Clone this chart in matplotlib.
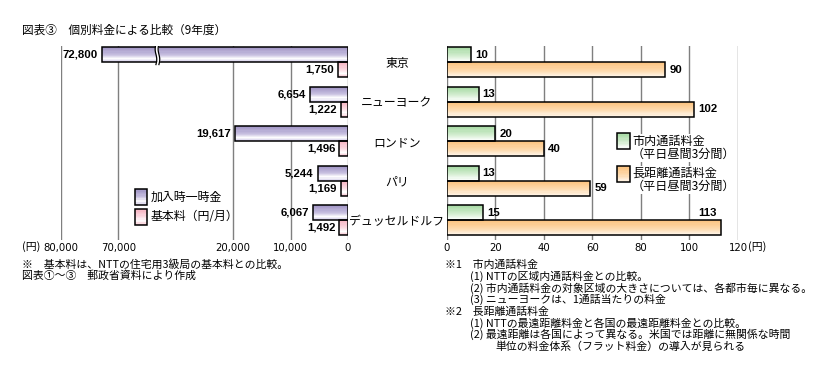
import numpy as np
import matplotlib
matplotlib.use('Agg')
import matplotlib.pyplot as plt
from matplotlib.colors import LinearSegmentedColormap
from matplotlib.patches import Rectangle

plt.rcParams['font.family'] = ['Noto Sans CJK JP', 'DejaVu Sans']

# data
cities = ['東京', 'ニューヨーク', 'ロンドン', 'パリ', 'デュッセルドルフ']
join_fee = [72800, 6654, 19617, 5244, 6067]      # 加入時一時金
basic_fee = [1750, 1222, 1496, 1169, 1492]        # 基本料(円/月)
local_call = [10, 13, 20, 13, 15]                 # 市内通話料金
long_call = [90, 102, 40, 59, 113]                # 長距離通話料金
left_ticks = [80000, 70000, 20000, 10000, 0]
right_ticks = [0, 20, 40, 60, 80, 100, 120]

W, H = 828, 381
BAR_H = 0.38

purple = LinearSegmentedColormap.from_list('p', [(0, '#a094c5'), (0.5, '#c8c0e0'), (0.78, '#ffffff'), (1, '#d2cbe8')])
pink = LinearSegmentedColormap.from_list('k', [(0, '#f6b2c1'), (0.5, '#fbdbe3'), (0.78, '#ffffff'), (1, '#f8c3cf')])
green = LinearSegmentedColormap.from_list('g', [(0, '#a6daa3'), (0.6, '#d6eed3'), (1, '#ffffff')])
orange = LinearSegmentedColormap.from_list('o', [(0, '#fcc27e'), (0.6, '#fddcb2'), (1, '#fff6ea')])


def fwd(v):
    v = np.asarray(v, dtype=float)
    return np.where(v <= 20000, v / 1e4,
                    np.where(v >= 70000, 4 + (v - 70000) / 1e4, 2 + (v - 20000) / 25000))


def inv(u):
    u = np.asarray(u, dtype=float)
    return np.where(u <= 2, u * 1e4,
                    np.where(u >= 4, 70000 + (u - 4) * 1e4, 20000 + (u - 2) * 25000))


def fx(px):
    return px / W


def fy(py):
    return 1 - py / H


def gradient_bars(ax, yc, values, cmap, n=14):
    yc = np.asarray(yc, dtype=float)
    for k in range(n):
        ys = yc - BAR_H / 2 + (k + 0.5) * BAR_H / n
        ax.barh(ys, values, height=BAR_H / n * 1.05, color=cmap(k / (n - 1)), linewidth=0, zorder=2)
    ax.barh(yc, values, height=BAR_H, fill=False, edgecolor='black', linewidth=1.1, zorder=3)


def gradient_box(fig, x, y, w, h, cmap, n=12):
    for k in range(n):
        fig.add_artist(Rectangle((fx(x), fy(y + (k + 1) * h / n)), fx(w), h / n / H * 1.05,
                                 transform=fig.transFigure, color=cmap(k / (n - 1)), lw=0))
    fig.add_artist(Rectangle((fx(x), fy(y + h)), fx(w), h / H, transform=fig.transFigure,
                             fill=False, edgecolor='black', lw=1.1))


fig = plt.figure(figsize=(W / 100, H / 100), dpi=100)
fig.patch.set_facecolor('white')

top, bot = 46, 240
ax_l = fig.add_axes([fx(61), fy(bot), fx(348 - 61), (bot - top) / H])
ax_r = fig.add_axes([fx(447), fy(bot), fx(738 - 447), (bot - top) / H])

pos = np.arange(len(cities))

for ax in (ax_l, ax_r):
    ax.set_ylim(4.5, -0.41)
    ax.set_yticks([])
    for s in ax.spines.values():
        s.set_visible(False)
    ax.tick_params(axis='x', length=0, pad=2, labelsize=7.3)
    ax.grid(axis='x', color='#7f7f7f', linewidth=1)
    ax.set_axisbelow(True)

# left panel
ax_l.set_xscale('function', functions=(fwd, inv))
ax_l.set_xlim(80000, 0)
ax_l.set_xticks(left_ticks)
ax_l.set_xticklabels([f'{t:,}' for t in left_ticks], family='DejaVu Sans', fontsize=7.3)
gradient_bars(ax_l, pos - BAR_H / 2, join_fee, purple)
gradient_bars(ax_l, pos + BAR_H / 2, basic_fee, pink)
for i in pos:
    ax_l.annotate(f'{join_fee[i]:,}', (join_fee[i], i - BAR_H / 2), xytext=(-3, 0),
                  textcoords='offset points', ha='right', va='center',
                  family='Liberation Sans', weight='bold', fontsize=8.2)
    ax_l.annotate(f'{basic_fee[i]:,}', (basic_fee[i], i + BAR_H / 2), xytext=(-3, 0),
                  textcoords='offset points', ha='right', va='center',
                  family='Liberation Sans', weight='bold', fontsize=8.2)

# break mark on the long bar
brk = 53000
yy = np.linspace(-BAR_H - 0.08, 0.06, 30)
wig = 350 * np.sin((yy - yy[0]) / (yy[-1] - yy[0]) * 2 * np.pi)
ax_l.fill_betweenx(yy, brk - 650 + wig, brk + 650 + wig, color='white', zorder=4, lw=0)
ax_l.plot(brk - 650 + wig, yy, color='black', lw=0.9, zorder=5)
ax_l.plot(brk + 650 + wig, yy, color='black', lw=0.9, zorder=5)

# right panel
ax_r.set_xlim(0, 120)
ax_r.set_xticks(right_ticks)
ax_r.set_xticklabels([str(t) for t in right_ticks], family='DejaVu Sans', fontsize=7.3)
gradient_bars(ax_r, pos - BAR_H / 2, local_call, green)
gradient_bars(ax_r, pos + BAR_H / 2, long_call, orange)
for i in pos:
    ax_r.annotate(str(local_call[i]), (local_call[i], i - BAR_H / 2), xytext=(3, 0),
                  textcoords='offset points', ha='left', va='center',
                  family='Liberation Sans', weight='bold', fontsize=8.2)
    if long_call[i] > 110:
        ax_r.annotate(str(long_call[i]), (long_call[i], i - BAR_H / 2), xytext=(-3, 0),
                      textcoords='offset points', ha='right', va='center',
                      family='Liberation Sans', weight='bold', fontsize=8.2)
    else:
        ax_r.annotate(str(long_call[i]), (long_call[i], i + BAR_H / 2), xytext=(3, 0),
                      textcoords='offset points', ha='left', va='center',
                      family='Liberation Sans', weight='bold', fontsize=8.2)

# city names
for i, c in enumerate(cities):
    ax_r.text((397 - 447) / (738 - 447), i + 0.03, c, transform=ax_r.get_yaxis_transform(),
              ha='center', va='center', fontsize=8.6)

# unit labels
fig.text(fx(22), fy(247), '(円)', ha='left', va='center', fontsize=7.8)
fig.text(fx(748), fy(247), '(円)', ha='left', va='center', fontsize=7.8)

# title
fig.text(fx(22), fy(30), '図表③　個別料金による比較（9年度）', ha='left', va='center', fontsize=8.4)

# legends
gradient_box(fig, 135, 189, 12, 16, purple)
fig.text(fx(151), fy(197), '加入時一時金', ha='left', va='center', fontsize=8.6)
gradient_box(fig, 135, 209, 12, 16, pink)
fig.text(fx(151), fy(217), '基本料（円/月）', ha='left', va='center', fontsize=8.6)

gradient_box(fig, 617, 133, 13, 16, green)
fig.text(fx(632), fy(148), '市内通話料金\n（平日昼間3分間）', ha='left', va='center', fontsize=8.7,
         linespacing=1.05, bbox=dict(facecolor='white', edgecolor='none', pad=0.5))
gradient_box(fig, 617, 166, 13, 16, orange)
fig.text(fx(632), fy(180), '長距離通話料金\n（平日昼間3分間）', ha='left', va='center', fontsize=8.7,
         linespacing=1.05, bbox=dict(facecolor='white', edgecolor='none', pad=0.5))

# footnotes
fs = 7.8
fig.text(fx(22), fy(264), '※　基本料は、NTTの住宅用3級局の基本料との比較。', ha='left', va='center', fontsize=fs)
fig.text(fx(22), fy(276), '図表①～③　郵政省資料により作成', ha='left', va='center', fontsize=fs)

notes = [
    (445, '※1　市内通話料金'),
    (470, '(1) NTTの区域内通話料金との比較。'),
    (470, '(2) 市内通話料金の対象区域の大きさについては、各都市毎に異なる。'),
    (470, '(3) ニューヨークは、1通話当たりの料金'),
    (445, '※2　長距離通話料金'),
    (470, '(1) NTTの最遠距離料金と各国の最遠距離料金との比較。'),
    (470, '(2) 最遠距離は各国によって異なる。米国では距離に無関係な時間'),
    (495, '単位の料金体系（フラット料金）の導入が見られる'),
]
for k, (x, t) in enumerate(notes):
    fig.text(fx(x), fy(265 + k * 11.6), t, ha='left', va='center', fontsize=fs)

fig.savefig('out.png', dpi=100, facecolor='white')
